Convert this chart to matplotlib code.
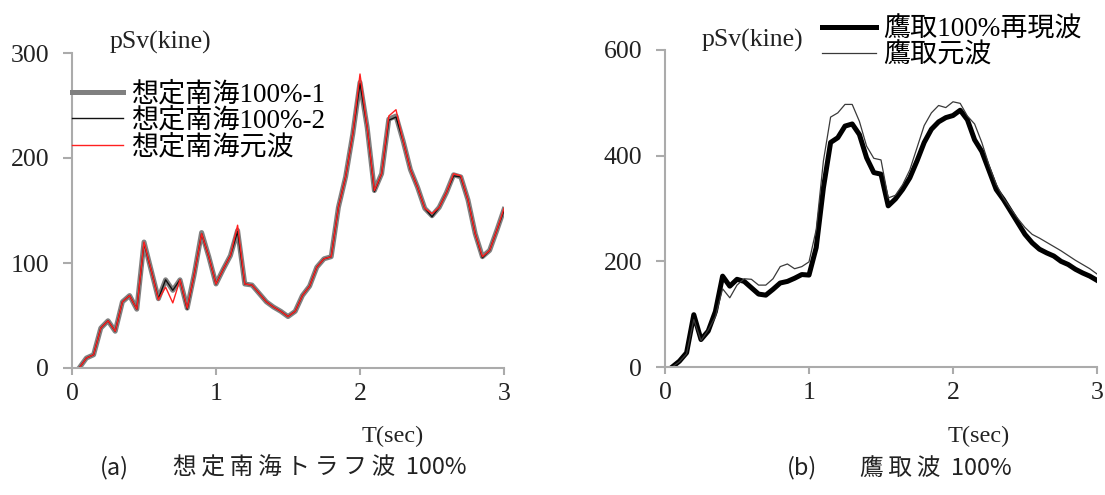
import matplotlib
matplotlib.use("Agg")
import matplotlib.pyplot as plt
import numpy as np

# periods (sec), 0.05 step
period = np.round(np.arange(1, 61) * 0.05, 2)

# (a) Nankai trough assumed wave, pSv (kine)
nankai_1 = [0, 9.5, 12.6, 38, 45, 35, 63, 69, 56, 120,
            93, 66, 84, 74, 84, 57, 90, 129, 106, 80,
            94, 107, 131, 80, 79, 71, 63, 58, 54, 49,
            54, 69, 78, 96, 104, 106, 153, 182, 223, 272,
            229, 169, 185, 237, 240, 216, 189, 172, 152, 145,
            153, 167, 184, 182, 160, 128, 106, 112, 131, 151]
nankai_2 = [0, 9.5, 12.6, 38, 45, 35, 63, 69, 56, 119,
            93, 66, 84, 74, 84, 56, 90, 128, 106, 80,
            94, 107, 130, 80, 79, 71, 63, 58, 54, 49,
            54, 69, 78, 96, 104, 106, 153, 182, 223, 271,
            229, 168, 185, 236, 239, 216, 189, 172, 152, 144,
            153, 167, 183, 182, 160, 128, 105, 112, 131, 150]
nankai_orig = [0, 9.5, 12.6, 38, 45, 35, 63, 69, 56, 120,
               93, 65, 77, 62, 84, 57, 90, 128, 106, 80,
               94, 107, 136, 80, 79, 71, 63, 58, 54, 49,
               54, 69, 78, 96, 104, 106, 153, 182, 223, 280,
               229, 169, 185, 240, 246, 216, 189, 172, 152, 147,
               153, 167, 185, 183, 160, 128, 106, 112, 131, 152]

# (b) Takatori wave, pSv (kine)
takatori_rep = [0, 11, 27, 99, 52, 68, 105, 172, 153, 166,
                162, 150, 138, 136, 147, 159, 162, 168, 175, 174,
                226, 339, 425, 434, 456, 460, 440, 396, 368, 365,
                305, 318, 336, 358, 390, 425, 450, 464, 472, 476,
                486, 468, 430, 408, 372, 336, 317, 295, 273, 251,
                235, 223, 216, 210, 200, 194, 185, 178, 172, 164]
takatori_orig = [0, 10, 25, 90, 50, 70, 95, 148, 131, 155,
                 167, 166, 155, 155, 167, 190, 195, 186, 190, 199,
                 260, 390, 473, 481, 497, 497, 465, 418, 395, 392,
                 320, 325, 345, 373, 415, 457, 481, 495, 491, 502,
                 499, 475, 460, 425, 382, 346, 320, 300, 281, 264,
                 251, 244, 236, 228, 220, 211, 202, 194, 186, 176]

labels_a = ["想定南海100%-1", "想定南海100%-2", "想定南海元波"]
labels_b = ["鷹取100%再現波", "鷹取元波"]
caption_a = ["(a)", "想定南海トラフ波", "100%"]
caption_b = ["(b)", "鷹取波", "100%"]

W, H = 1105, 495
serif = "Liberation Serif"
mixed = [serif, "Noto Sans CJK JP"]
cjk = ["Noto Sans CJK JP", "DejaVu Sans"]
axis_grey = "#ababab"

fig = plt.figure(figsize=(W / 100, H / 100), dpi=100)


def px_axes(x0, x1, y_top, y_bot):
    return fig.add_axes([x0 / W, 1 - y_bot / H, (x1 - x0) / W, (y_bot - y_top) / H])


def style(ax, ymax, ystep):
    ax.set_xlim(0, 3)
    ax.set_ylim(0, ymax)
    ax.set_xticks([0, 1, 2, 3])
    ax.set_yticks(np.arange(0, ymax + 1, ystep))
    for s in ["top", "right"]:
        ax.spines[s].set_visible(False)
    for s in ["left", "bottom"]:
        ax.spines[s].set_color(axis_grey)
        ax.spines[s].set_linewidth(1.5)
    ax.tick_params(axis="y", direction="out", length=6.5, width=1.5,
                   color=axis_grey, pad=10, labelsize=18.5, labelcolor="#222")
    ax.tick_params(axis="x", direction="out", length=5, width=1.5,
                   color=axis_grey, pad=6, labelsize=18.5, labelcolor="#222")
    for lab in ax.get_xticklabels() + ax.get_yticklabels():
        lab.set_fontfamily(serif)
    ax.patch.set_alpha(0)


def spaced(s):
    # loose letter spacing for the caption kana/kanji
    return "\u2009".join(s)


# (a)
ax1 = px_axes(72, 504, 53, 368)
style(ax1, 300, 100)
ax1.plot(period, nankai_1, color="#808080", lw=3.6, solid_joinstyle="round",
         label=labels_a[0])
ax1.plot(period, nankai_2, color="#111111", lw=1.0, label=labels_a[1])
ax1.plot(period, nankai_orig, color="#ff2020", lw=1.0, label=labels_a[2])
ax1.legend(loc="upper left", bbox_to_anchor=(72 / W, 1 - 82 / H),
           bbox_transform=fig.transFigure, frameon=False, borderpad=0,
           borderaxespad=0, handlelength=1.9, handletextpad=0.3,
           labelspacing=0.03, prop={"family": mixed, "size": 19.5})
fig.text(110 / W, 1 - 42 / H, "pSv(kine)", family=serif, size=18.5,
         va="center", ha="left", color="#222")
fig.text(393 / W, 1 - 436 / H, "T(sec)", family=serif, size=17.5,
         va="center", ha="center", color="#222")

# (b)
ax2 = px_axes(665, 1097, 50, 367)
style(ax2, 600, 200)
ax2.plot(period, takatori_rep, color="black", lw=3.6, solid_joinstyle="round",
         label=labels_b[0])
ax2.plot(period, takatori_orig, color="#3a3a3a", lw=0.9, label=labels_b[1])
ax2.legend(loc="upper left", bbox_to_anchor=(822 / W, 1 - 17 / H),
           bbox_transform=fig.transFigure, frameon=False, borderpad=0,
           borderaxespad=0, handlelength=2.0, handletextpad=0.25,
           labelspacing=0.03, prop={"family": mixed, "size": 19.5})
fig.text(702 / W, 1 - 40 / H, "pSv(kine)", family=serif, size=18.5,
         va="center", ha="left", color="#222")
fig.text(979 / W, 1 - 436 / H, "T(sec)", family=serif, size=17.5,
         va="center", ha="center", color="#222")

# captions
for x_tag, x_body, (tag, name, pct) in [(100, 173, caption_a), (787, 860, caption_b)]:
    fig.text(x_tag / W, 1 - 468 / H, tag, family=cjk, size=17,
             va="center", ha="left", color="#222")
    fig.text(x_body / W, 1 - 468 / H, spaced(name) + "  " + pct, family=cjk,
             size=17, va="center", ha="left", color="#222")

fig.savefig("out.png", dpi=100)
